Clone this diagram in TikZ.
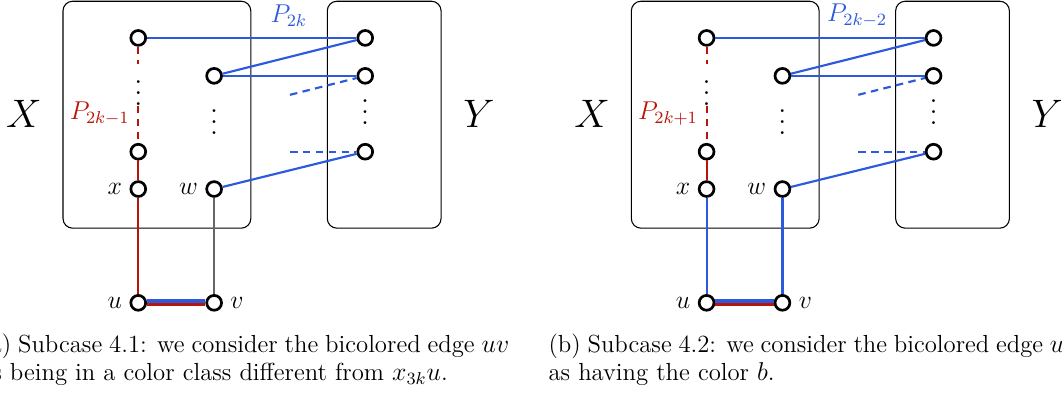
\documentclass[tikz,border=0pt]{standalone}
\usepackage{amsmath}
\usepackage{xcolor}
\usepackage{tikz}
\usetikzlibrary{positioning}
\usetikzlibrary{calc}

\definecolor{pblue}{RGB}{45,90,220}
\definecolor{pred}{RGB}{185,20,10}

\begin{document}
\begin{tikzpicture}[
  vert/.style={
    circle,
    draw,
    line width=1.25pt,
    minimum size=6.9pt,
    inner sep=0pt
  },
  part/.style={draw, line width=0.5pt, rounded corners=4.5pt},
  side/.style={font=\LARGE, scale=1.07},
  vdts/.style={inner sep=0pt, scale=1.25},
  bluepath/.style={pblue, line width=1pt},
  redpath/.style={pred, line width=1pt},
  gapped/.style={dash pattern=on 3.5pt off 2.5pt},
  every label/.style={font=\large},
  capt/.style={
    text width=246pt,
    align=justify,
    inner sep=0pt,
    anchor=base west,
    font={\fontsize{11.5pt}{13pt}\selectfont}
  }
]

\useasboundingbox (0,0) rectangle (17.36,-6.47);
\clip (0,0) rectangle (17.36,-6.47);

% ===================== (a) Subcase 4.1 =====================
\draw[part] (1.03,-0.02) rectangle (4.10,-3.73);
\draw[part] (5.35,-0.02) rectangle (7.21,-3.73);
\node[side] (lxa) at (0.39,-1.86) {$X$};
\node[side] (lya) at (7.83,-1.86) {$Y$};

\node[vert]                  (a1)  at (2.26,-0.62) {};
\node[vert]                  (a2)  at (2.26,-2.48) {};
\node[vert, label=left:$x$]  (ax)  at (2.26,-3.09) {};
\node[vert, label=left:$u$]  (au)  at (2.26,-4.95) {};
\node[vert]                  (a3)  at (3.50,-1.24) {};
\node[vert, label=left:$w$]  (aw)  at (3.50,-3.09) {};
\node[vert, label=right:$v$] (av)  at (3.50,-4.95) {};
\node[vert]                  (ay1) at (5.97,-0.62) {};
\node[vert]                  (ay2) at (5.97,-1.24) {};
\node[vert]                  (ay3) at (5.97,-2.48) {};

\node[vdts] (ad1) at (2.26,-1.39) {$\vdots$};
\node[vdts] (ad2) at (3.50,-1.86) {$\vdots$};
\node[vdts] (ad3) at (5.97,-1.70) {$\vdots$};
\coordinate (ae1) at (4.74,-1.55);
\coordinate (ae2) at (4.74,-2.48);

\node[text=pblue, font=\large] (pa1) at (4.72,-0.26) {$P_{2k}$};
\node[text=pred, font=\large]  (pa2) at (1.63,-1.86) {$P_{2k-1}$};

\draw[redpath, gapped] (a1) -- (ad1.north);
\draw[redpath, gapped] (ad1.south) -- (a2);
\draw[redpath] (a2) -- (ax);
\draw[redpath] (ax) -- (au);
\draw[black!60, line width=0.6pt] (aw) -- (av);
\draw[bluepath] (a1) -- (ay1);
\draw[bluepath] (a3) -- (ay1);
\draw[bluepath] (a3) -- (ay2);
\draw[bluepath, gapped] (ae1) -- (ay2);
\draw[bluepath, gapped] (ae2) -- (ay3);
\draw[bluepath] (aw) -- (ay3);
\draw[pblue, line width=1.6pt, transform canvas={yshift=0.8pt}] (au) -- (av);
\draw[pred, line width=1.5pt, transform canvas={yshift=-0.75pt}] (au) -- (av);

\node[capt] (capa) at (-0.33,-5.77) {(a) Subcase 4.1: we consider the bicolored edge $uv$\linebreak as being in a color class different from $x_{3k}u$.};

% ===================== (b) Subcase 4.2 =====================
\begin{scope}[xshift=9.29cm]
\draw[part] (1.03,-0.02) rectangle (4.10,-3.73);
\draw[part] (5.35,-0.02) rectangle (7.21,-3.73);
\node[side] (lxb) at (0.39,-1.86) {$X$};
\node[side] (lyb) at (7.83,-1.86) {$Y$};

\node[vert]                  (b1)  at (2.26,-0.62) {};
\node[vert]                  (b2)  at (2.26,-2.48) {};
\node[vert, label=left:$x$]  (bx)  at (2.26,-3.09) {};
\node[vert, label=left:$u$]  (bu)  at (2.26,-4.95) {};
\node[vert]                  (b3)  at (3.50,-1.24) {};
\node[vert, label=left:$w$]  (bw)  at (3.50,-3.09) {};
\node[vert, label=right:$v$] (bv)  at (3.50,-4.95) {};
\node[vert]                  (by1) at (5.97,-0.62) {};
\node[vert]                  (by2) at (5.97,-1.24) {};
\node[vert]                  (by3) at (5.97,-2.48) {};

\node[vdts] (bd1) at (2.26,-1.39) {$\vdots$};
\node[vdts] (bd2) at (3.50,-1.86) {$\vdots$};
\node[vdts] (bd3) at (5.97,-1.70) {$\vdots$};
\coordinate (be1) at (4.74,-1.55);
\coordinate (be2) at (4.74,-2.48);

\node[text=pblue, font=\large] (pb1) at (4.72,-0.26) {$P_{2k-2}$};
\node[text=pred, font=\large]  (pb2) at (1.63,-1.86) {$P_{2k+1}$};

\draw[redpath, gapped] (b1) -- (bd1.north);
\draw[redpath, gapped] (bd1.south) -- (b2);
\draw[redpath] (b2) -- (bx);
\draw[bluepath] (bx) -- (bu);
\draw[bluepath] (bw) -- (bv);
\draw[bluepath] (b1) -- (by1);
\draw[bluepath] (b3) -- (by1);
\draw[bluepath] (b3) -- (by2);
\draw[bluepath, gapped] (be1) -- (by2);
\draw[bluepath, gapped] (be2) -- (by3);
\draw[bluepath] (bw) -- (by3);
\draw[pblue, line width=1.6pt, transform canvas={yshift=0.8pt}] (bu) -- (bv);
\draw[pred, line width=1.5pt, transform canvas={yshift=-0.75pt}] (bu) -- (bv);

\node[capt] (capb) at (-0.33,-5.77) {(b) Subcase 4.2: we consider the bicolored edge $uv$\linebreak as having the color $b$.};
\end{scope}

\end{tikzpicture}
\end{document}
